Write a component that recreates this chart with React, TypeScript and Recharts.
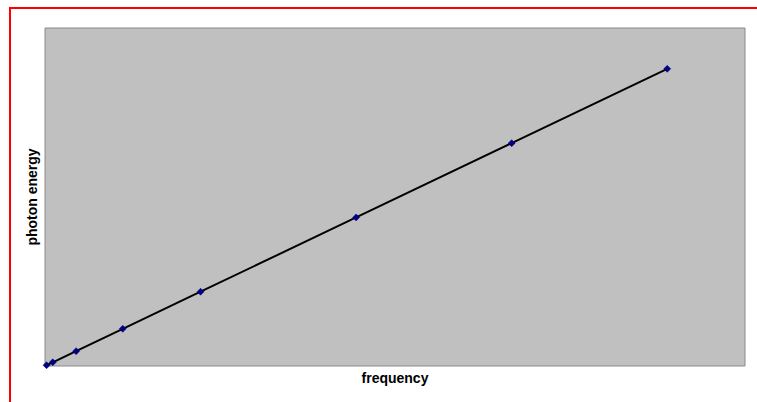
import React from 'react';
import { LineChart, Line, XAxis, YAxis, ReferenceArea } from 'recharts';

const frequencies = [0.1, 0.5, 2, 5, 10, 20, 30, 40];
const energies = [0.1, 0.5, 2, 5, 10, 20, 30, 40];
const xLabel = 'frequency';
const yLabel = 'photon energy';

const data = frequencies.map((f, i) => ({ f, e: energies[i] }));

const FONT = '"Liberation Sans", Arial, sans-serif';

const Diamond = (props: any) => {
  const { cx, cy, index } = props;
  if (cx == null || cy == null) return null;
  const r = 3.5;
  return (
    <polygon
      key={index}
      points={`${cx},${cy - r} ${cx + r},${cy} ${cx},${cy + r} ${cx - r},${cy}`}
      fill="#000080"
      stroke="#000080"
      strokeWidth={0.5}
    />
  );
};

const XLabel = (props: any) => {
  const vb = props.viewBox || {};
  return (
    <text
      x={vb.x + vb.width / 2}
      y={vb.y + 17}
      textAnchor="middle"
      fontFamily={FONT}
      fontWeight="bold"
      fontSize={14}
      fill="#000"
    >
      {xLabel}
    </text>
  );
};

const YLabel = (props: any) => {
  const vb = props.viewBox || {};
  const cx = 37;
  const cy = vb.y + vb.height / 2;
  return (
    <text
      x={cx}
      y={cy}
      transform={`rotate(-90 ${cx} ${cy})`}
      textAnchor="middle"
      fontFamily={FONT}
      fontWeight="bold"
      fontSize={14}
      fill="#000"
    >
      {yLabel}
    </text>
  );
};

export default function App() {
  return (
    <div style={{ position: 'absolute', left: 0, top: 0, width: 757, height: 402, background: '#fff', overflow: 'hidden' }}>
      <div
        style={{
          position: 'absolute',
          left: 9,
          top: 7,
          width: 800,
          height: 450,
          borderTop: '2px solid #ff0000',
          borderLeft: '2px solid #ff0000',
        }}
      />
      <div style={{ position: 'absolute', left: 0, top: 0 }}>
        <LineChart width={757} height={402} data={data} margin={{ top: 28, right: 12, left: 0, bottom: 0 }}>
          <XAxis
            type="number"
            dataKey="f"
            domain={[0, 45]}
            tick={false}
            tickLine={false}
            axisLine={false}
            height={36}
            label={<XLabel />}
          />
          <YAxis
            type="number"
            dataKey="e"
            domain={[0, 45.5]}
            tick={false}
            tickLine={false}
            axisLine={false}
            width={45}
            label={<YLabel />}
          />
          <ReferenceArea x1={0} x2={45} y1={0} y2={45.5} fill="#c0c0c0" fillOpacity={1} stroke="#8a8a8a" strokeWidth={1} />
          <Line
            type="linear"
            dataKey="e"
            stroke="#000"
            strokeWidth={2}
            dot={<Diamond />}
            activeDot={false}
            isAnimationActive={false}
          />
        </LineChart>
      </div>
    </div>
  );
}
